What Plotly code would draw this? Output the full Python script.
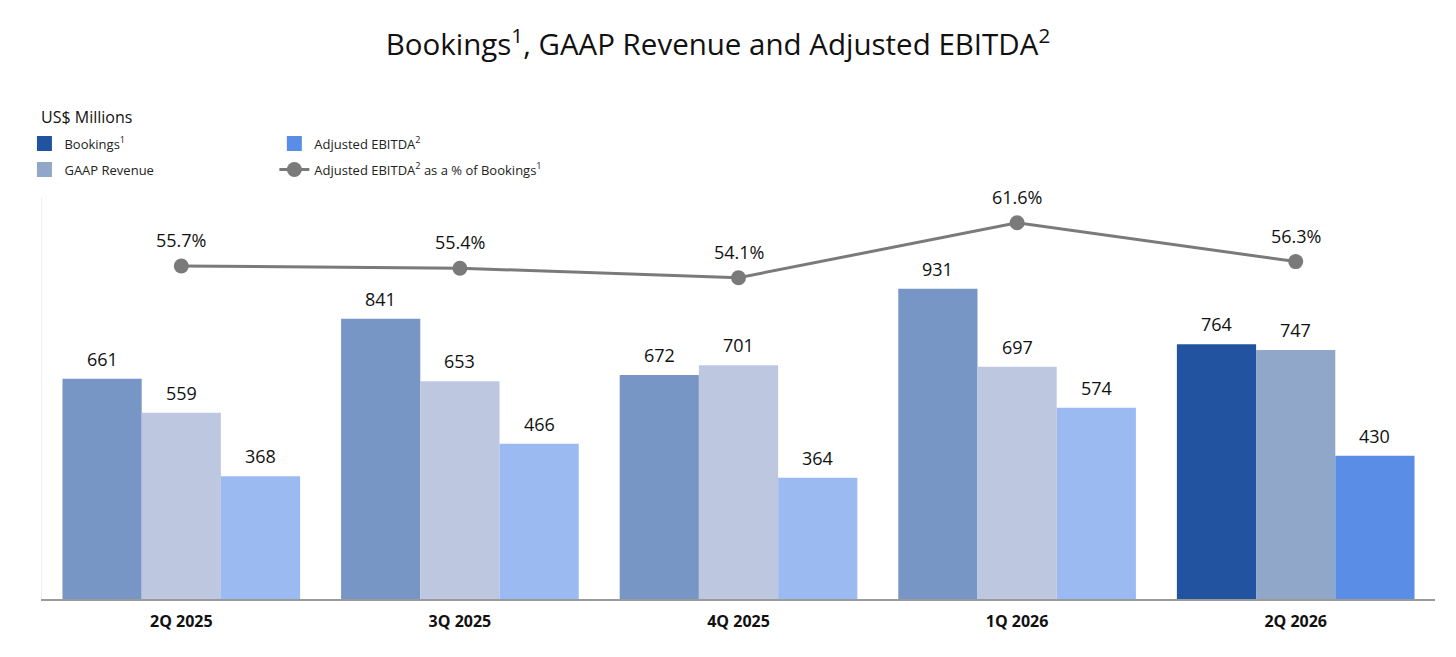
import plotly.graph_objects as go

# Data (US$ millions)
quarters = ["2Q 2025", "3Q 2025", "4Q 2025", "1Q 2026", "2Q 2026"]
bookings = [661, 841, 672, 931, 764]
gaap_revenue = [559, 653, 701, 697, 747]
adj_ebitda = [368, 466, 364, 574, 430]
ebitda_pct = [55.7, 55.4, 54.1, 61.6, 56.3]

# colours: older quarters are lighter, latest quarter is highlighted
bk_light, bk_dark = "#7896c5", "#2253a0"
rev_light, rev_dark = "#bdc8e0", "#91a7c9"
eb_light, eb_dark = "#9bbaf2", "#5a8de6"

def shade(light, dark):
    return [light] * (len(quarters) - 1) + [dark]

FONT = "Open Sans"
label_font = dict(family=FONT, size=18, color="#111111")

W, H = 1456, 657
MARGIN = dict(l=33.5, r=28.5, t=189, b=66)
BARGAP = 0.147

fig = go.Figure()

series = [
    ("Bookings<sup>1</sup>", bookings, bk_light, bk_dark, "bk", "legend"),
    ("GAAP Revenue", gaap_revenue, rev_light, rev_dark, "rev", "legend"),
    ("Adjusted EBITDA<sup>2</sup>", adj_ebitda, eb_light, eb_dark, "eb", "legend2"),
]

# pixel width of one bar, used to put the value labels over each bar
cat_px = (W - MARGIN["l"] - MARGIN["r"]) / len(quarters)
bar_px = cat_px * (1 - BARGAP) / len(series)

annotations = []
for i, (name, vals, light, dark, grp, leg) in enumerate(series):
    fig.add_trace(go.Bar(
        x=quarters, y=vals, name=name, offsetgroup=grp,
        marker=dict(color=shade(light, dark), line=dict(width=0)),
        showlegend=False, hoverinfo="x+y",
    ))
    # legend entry with the dark colour
    fig.add_trace(go.Bar(
        x=[None], y=[None], name=name, offsetgroup=grp, legendgroup=grp,
        marker=dict(color=dark, line=dict(color=dark, width=3)),
        legend=leg, showlegend=True,
    ))
    for q, v in zip(quarters, vals):
        annotations.append(dict(
            x=q, y=v, xref="x", yref="y", text=str(v),
            xshift=(i - 1) * bar_px, yshift=20, yanchor="middle",
            showarrow=False, font=label_font,
        ))

fig.add_trace(go.Scatter(
    x=quarters, y=ebitda_pct, yaxis="y2", legendgroup="pct",
    name="Adjusted EBITDA<sup>2</sup> as a % of Bookings<sup>1</sup>",
    mode="lines+markers",
    line=dict(color="#7a7a7a", width=3),
    marker=dict(color="#7a7a7a", size=15),
    cliponaxis=False, legend="legend2", hoverinfo="x+y",
))

# percentage labels above the markers
for q, v in zip(quarters, ebitda_pct):
    annotations.append(dict(
        x=q, y=v, xref="x", yref="y2", text=f"{v:.1f}%", yshift=26,
        showarrow=False, yanchor="middle", font=label_font,
    ))

annotations.append(dict(
    text="US$ Millions", xref="paper", yref="paper",
    x=-0.0025, y=1.199, xanchor="left", yanchor="middle",
    showarrow=False, font=dict(family=FONT, size=16, color="#111111"),
))

legend_style = dict(
    yanchor="top", xanchor="left", orientation="v",
    font=dict(family=FONT, size=13, color="#222222"),
    itemwidth=30, tracegroupgap=6, bgcolor="rgba(0,0,0,0)",
)

fig.update_layout(
    width=W, height=H,
    barmode="group", bargap=BARGAP, bargroupgap=0,
    plot_bgcolor="white", paper_bgcolor="white",
    margin=MARGIN,
    font=dict(family=FONT, color="#111111"),
    title=dict(
        text="Bookings<sup>1</sup>, GAAP Revenue and Adjusted EBITDA<sup>2</sup>",
        x=0.4876, xanchor="center", y=0.944, yanchor="middle",
        font=dict(family=FONT, size=29.5, color="#111111"),
    ),
    legend=dict(x=-0.0126, y=1.17, **legend_style),
    legend2=dict(x=0.1668, y=1.17, **legend_style),
    xaxis=dict(
        showgrid=False, showline=True, linecolor="#9a9a9a", linewidth=1.5,
        ticks="", ticklabelstandoff=7,
        tickfont=dict(family=FONT, size=16, color="#111111", weight="bold"),
    ),
    yaxis=dict(
        range=[0, 1206], showgrid=False, zeroline=False, showticklabels=False,
        showline=True, linecolor="#f0f0f0", linewidth=1,
    ),
    yaxis2=dict(
        range=[10.27, 65.11], overlaying="y", side="right",
        showgrid=False, zeroline=False, showticklabels=False, showline=False,
    ),
    annotations=annotations,
)

fig.write_html("out.html")
